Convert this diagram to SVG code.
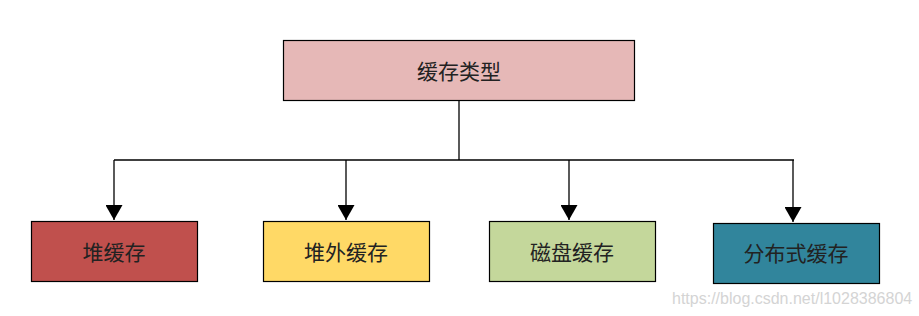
<svg xmlns="http://www.w3.org/2000/svg" width="919" height="316" viewBox="0 0 919 316">
<style>
.box{stroke:#000;stroke-width:1.2}
.lbl{font-family:"Noto Sans CJK SC","Noto Sans",sans-serif;font-size:21px;fill:#222;text-anchor:middle;dominant-baseline:central}
.con{fill:none;stroke:#000;stroke-width:1.3}
.wm{font-family:"Liberation Sans",Arial,sans-serif;font-size:16px;fill:#d4d4d4}
</style>
<defs>
<marker id="arr" markerWidth="16" markerHeight="17" refX="15" refY="8.5" orient="auto" markerUnits="userSpaceOnUse">
<path d="M0,0 L15,8.5 L0,17 Z" fill="#000"/>
</marker>
</defs>
<rect width="919" height="316" fill="#fff"/>
<g id="connectors">
<path class="con" d="M459,100 V160"/>
<path class="con" d="M114,160 H794"/>
<path class="con" d="M114,160 V220" marker-end="url(#arr)"/>
<path class="con" d="M346,160 V220" marker-end="url(#arr)"/>
<path class="con" d="M569,160 V220" marker-end="url(#arr)"/>
<path class="con" d="M793,160 V222" marker-end="url(#arr)"/>
</g>
<g id="root">
<rect class="box" x="283.5" y="40.5" width="351" height="60" fill="#e6b8b7"/>
<text class="lbl" x="459" y="70">缓存类型</text>
</g>
<g id="heap">
<rect class="box" x="31.5" y="221.5" width="166" height="60" fill="#c0504d"/>
<text class="lbl" x="114" y="251">堆缓存</text>
</g>
<g id="offheap">
<rect class="box" x="263.5" y="221.5" width="166" height="60" fill="#ffd966"/>
<text class="lbl" x="346" y="251">堆外缓存</text>
</g>
<g id="disk">
<rect class="box" x="489.5" y="221.5" width="166" height="60" fill="#c4d79b"/>
<text class="lbl" x="572" y="251">磁盘缓存</text>
</g>
<g id="distributed">
<rect class="box" x="713.5" y="223.5" width="166" height="60" fill="#31859c"/>
<text class="lbl" x="796" y="252">分布式缓存</text>
</g>
<text class="wm" x="672" y="304">https://blog.csdn.net/l1028386804</text>
</svg>
